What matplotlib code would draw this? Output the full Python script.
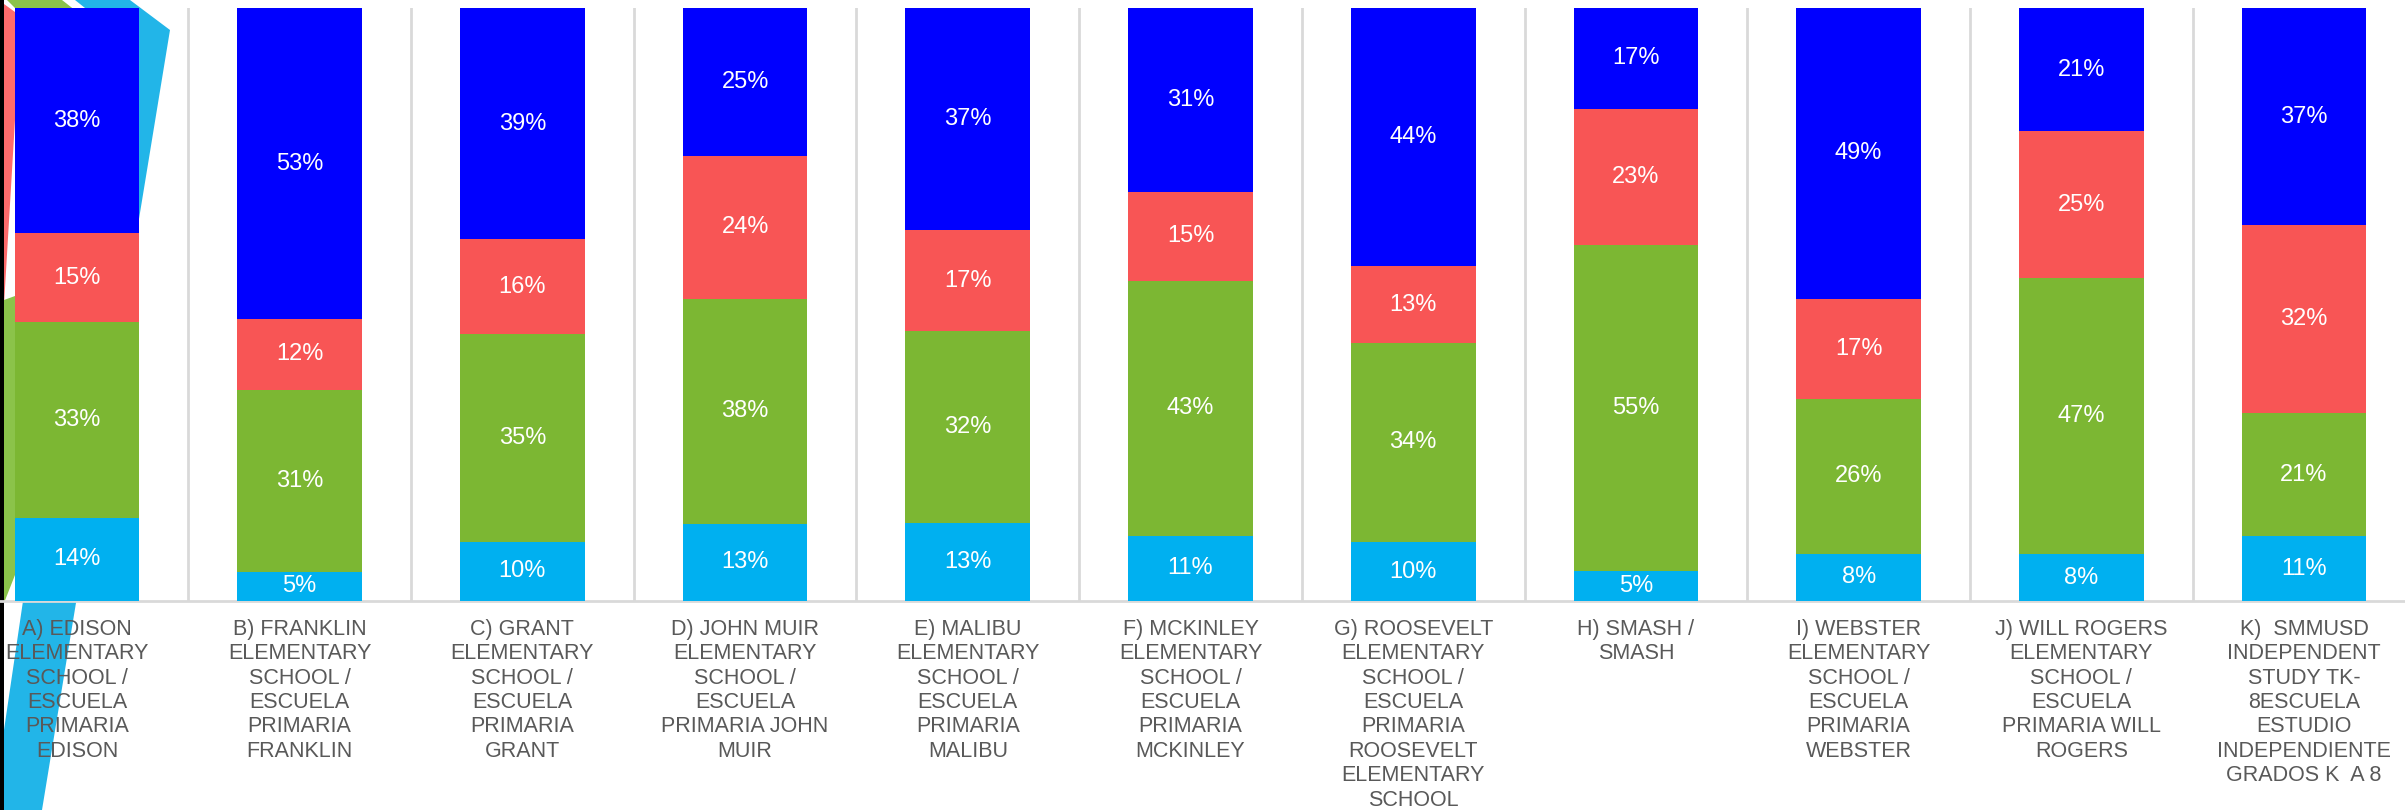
import numpy as np
import matplotlib
matplotlib.use("Agg")
import matplotlib.pyplot as plt
from matplotlib.patches import Polygon

plt.rcParams['font.family'] = ['Liberation Sans', 'DejaVu Sans']

categories = [
    "A) EDISON\nELEMENTARY\nSCHOOL /\nESCUELA\nPRIMARIA\nEDISON",
    "B) FRANKLIN\nELEMENTARY\nSCHOOL /\nESCUELA\nPRIMARIA\nFRANKLIN",
    "C) GRANT\nELEMENTARY\nSCHOOL /\nESCUELA\nPRIMARIA\nGRANT",
    "D) JOHN MUIR\nELEMENTARY\nSCHOOL /\nESCUELA\nPRIMARIA JOHN\nMUIR",
    "E) MALIBU\nELEMENTARY\nSCHOOL /\nESCUELA\nPRIMARIA\nMALIBU",
    "F) MCKINLEY\nELEMENTARY\nSCHOOL /\nESCUELA\nPRIMARIA\nMCKINLEY",
    "G) ROOSEVELT\nELEMENTARY\nSCHOOL /\nESCUELA\nPRIMARIA\nROOSEVELT\nELEMENTARY\nSCHOOL",
    "H) SMASH /\nSMASH",
    "I) WEBSTER\nELEMENTARY\nSCHOOL /\nESCUELA\nPRIMARIA\nWEBSTER",
    "J) WILL ROGERS\nELEMENTARY\nSCHOOL /\nESCUELA\nPRIMARIA WILL\nROGERS",
    "K)  SMMUSD\nINDEPENDENT\nSTUDY TK-\n8ESCUELA\nESTUDIO\nINDEPENDIENTE\nGRADOS K  A 8",
]

# bottom -> top
light_blue = [14, 5, 10, 13, 13, 11, 10, 5, 8, 8, 11]
green = [33, 31, 35, 38, 32, 43, 34, 55, 26, 47, 21]
red = [15, 12, 16, 24, 17, 15, 13, 23, 17, 25, 32]
blue = [38, 53, 39, 25, 37, 31, 44, 17, 49, 21, 37]

series = [light_blue, green, red, blue]
colors = ['#00B0F0', '#7CB733', '#F85555', '#0000FF']

W, H = 2405, 810
fig = plt.figure(figsize=(W / 100, H / 100), dpi=100)

# decorative fragment on the left edge (pixel coords, y down)
bg = fig.add_axes([0, 0, 1, 1], zorder=0)
bg.set_xlim(0, W)
bg.set_ylim(H, 0)
bg.axis('off')
bg.add_patch(Polygon([(7, 0), (62, 0), (85, 18), (25, 18)], color='#8BC34A', lw=0))
bg.add_patch(Polygon([(75, 0), (130, 0), (170, 30), (42, 810), (4, 810), (4, 730),
                      (23, 601), (90, 12)], color='#22B5E8', lw=0))
bg.add_patch(Polygon([(4, 4), (15, 12), (15, 120), (4, 305)], color='#FF6B6B', lw=0))
bg.add_patch(Polygon([(4, 300), (15, 296), (15, 575), (4, 603)], color='#8BC34A', lw=0))
bg.add_patch(Polygon([(0, 0), (4, 0), (4, 810), (0, 810)], color='black', lw=0))

# main chart
left = -34.4 / W
width = 2449.8 / W
bottom = (H - 601) / H
height = 593 / H
ax = fig.add_axes([left, bottom, width, height], zorder=1)
ax.patch.set_alpha(0)

x = np.arange(len(categories))
data = np.array(series, dtype=float)
totals = data.sum(axis=0)
frac = data / totals

base = np.zeros(len(categories))
for vals, pct, c in zip(frac, data, colors):
    ax.bar(x, vals, bottom=base, width=0.56, color=c, zorder=3, linewidth=0)
    for xi, b, v, p in zip(x, base, vals, pct):
        ax.text(xi, b + v / 2, f"{int(p)}%", ha='center', va='center',
                color='white', fontsize=17, zorder=4)
    base += vals

ax.set_xlim(-0.5, len(categories) - 0.5)
ax.set_ylim(0, 1)
for xv in np.arange(0.5, len(categories) - 0.5, 1):
    ax.axvline(xv, color='#D9D9D9', lw=2, zorder=1)

ax.set_yticks([])
ax.set_xticks(x)
ax.set_xticklabels(categories, fontsize=15.5, color='#595959', linespacing=1.21)
ax.tick_params(axis='x', length=0, pad=13)
for s in ['top', 'left', 'right']:
    ax.spines[s].set_visible(False)
ax.spines['bottom'].set_color('#D9D9D9')
ax.spines['bottom'].set_linewidth(2)

fig.savefig('out.png', dpi=100)
